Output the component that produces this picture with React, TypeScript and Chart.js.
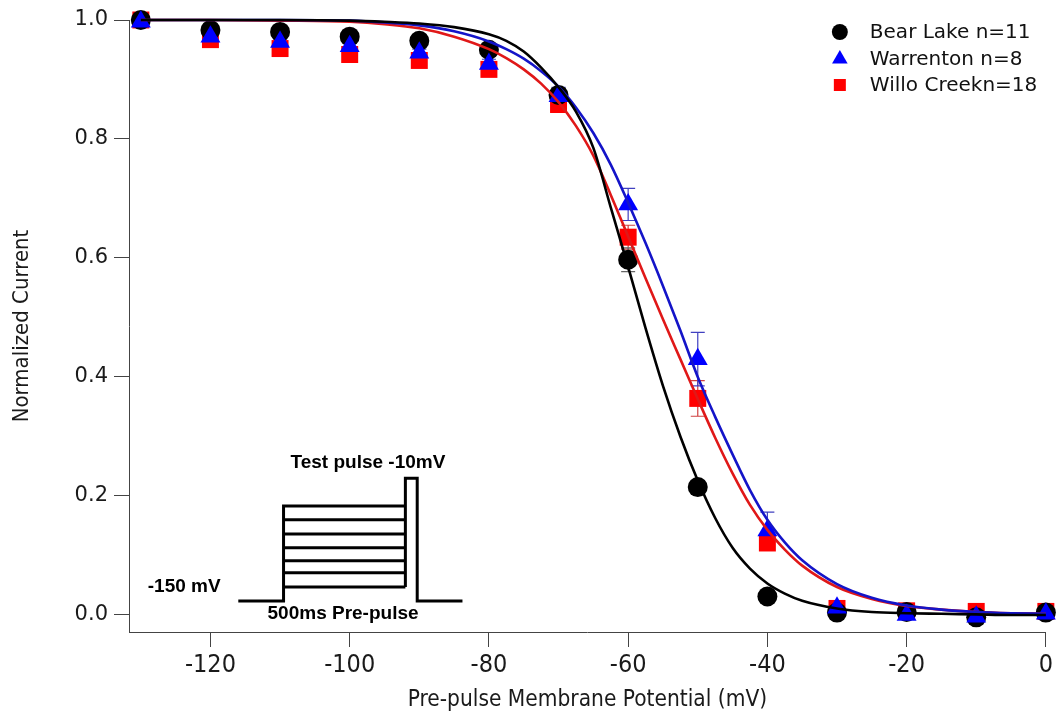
import React, { useEffect, useRef } from 'react';
import { Chart, registerables } from 'chart.js';

Chart.register(...registerables);

// ---- measured data (mV, normalized current) ----
const voltages = [-130, -120, -110, -100, -90, -80, -70, -60, -50, -40, -30, -20, -10, 0];

const bearLake = [1.0, 0.983, 0.98, 0.972, 0.965, 0.95, 0.874, 0.597, 0.215, 0.031, 0.004, 0.005, -0.004, 0.004];
const bearLakeErr = [0, 0.003, 0.003, 0.004, 0.005, 0.006, 0.012, 0.02, 0.01, 0.006, 0.002, 0.002, 0.002, 0.002];

const warrenton = [0.997, 0.972, 0.963, 0.956, 0.945, 0.926, 0.872, 0.69, 0.43, 0.142, 0.012, 0.0, -0.003, 0.002];
const warrentonErr = [0, 0.004, 0.005, 0.005, 0.006, 0.008, 0.015, 0.027, 0.045, 0.031, 0.004, 0.002, 0.002, 0.002];

const willoCreek = [1.0, 0.967, 0.952, 0.942, 0.932, 0.917, 0.858, 0.635, 0.364, 0.121, 0.011, 0.007, 0.006, 0.006];
const willoCreekErr = [0, 0.004, 0.004, 0.005, 0.005, 0.007, 0.012, 0.02, 0.03, 0.012, 0.003, 0.002, 0.002, 0.002];

// ---- fitted curves ----
const fitVoltages = [-130, -120, -110, -100, -95, -90, -85, -80, -77.5, -75, -72.5, -70, -67.5, -65, -62.5, -60, -57.5, -55, -52.5, -50, -47.5, -45, -42.5, -40, -37.5, -35, -30, -25, -20, -15, -10, -5, 0];
const bearLakeFit = [1.0, 1.0, 1.0, 0.999, 0.997, 0.994, 0.988, 0.976, 0.965, 0.947, 0.92, 0.887, 0.846, 0.785, 0.685, 0.585, 0.482, 0.385, 0.3, 0.226, 0.163, 0.113, 0.078, 0.053, 0.036, 0.024, 0.011, 0.005, 0.003, 0.002, 0.001, 0.0, 0.0];
const warrentonFit = [1.0, 1.0, 1.0, 0.999, 0.996, 0.991, 0.981, 0.964, 0.951, 0.935, 0.914, 0.888, 0.853, 0.81, 0.757, 0.693, 0.625, 0.553, 0.478, 0.4, 0.333, 0.27, 0.21, 0.16, 0.122, 0.092, 0.052, 0.029, 0.016, 0.009, 0.005, 0.003, 0.002];
const willoCreekFit = [1.0, 1.0, 0.999, 0.997, 0.993, 0.986, 0.972, 0.951, 0.936, 0.917, 0.893, 0.862, 0.822, 0.772, 0.706, 0.636, 0.566, 0.497, 0.43, 0.363, 0.298, 0.238, 0.185, 0.143, 0.11, 0.083, 0.047, 0.027, 0.015, 0.009, 0.005, 0.003, 0.002];

const xTicks = [-120, -100, -80, -60, -40, -20, 0];
const yTicks = [0.0, 0.2, 0.4, 0.6, 0.8, 1.0];

const seriesLabels = ['Bear Lake n=11', 'Warrenton n=8', 'Willo Creekn=18'];

const BLACK = '#000000';
const BLUE = '#0000ff';
const BLUE_LINE = '#1414c8';
const RED = '#ff0000';
const RED_LINE = '#e01818';

const toXY = (xs: number[], ys: number[]) => xs.map((x, i) => ({ x, y: ys[i] }));

const errorSeries = [
  { values: willoCreek, err: willoCreekErr, color: '#d04040' },
  { values: bearLake, err: bearLakeErr, color: '#666666' },
  { values: warrenton, err: warrentonErr, color: '#4040c0' },
];

const errorBarPlugin = {
  id: 'errorBars',
  beforeDatasetsDraw(chart: any) {
    const { ctx, scales } = chart;
    const x = scales.x, y = scales.y;
    ctx.save();
    ctx.lineWidth = 1.2;
    errorSeries.forEach((s) => {
      ctx.strokeStyle = s.color;
      voltages.forEach((v, i) => {
        const e = s.err[i];
        if (!e) return;
        const px = x.getPixelForValue(v);
        const top = y.getPixelForValue(s.values[i] + e);
        const bot = y.getPixelForValue(s.values[i] - e);
        ctx.beginPath();
        ctx.moveTo(px, top); ctx.lineTo(px, bot);
        ctx.moveTo(px - 7, top); ctx.lineTo(px + 7, top);
        ctx.moveTo(px - 7, bot); ctx.lineTo(px + 7, bot);
        ctx.stroke();
      });
    });
    ctx.restore();
  },
};

function drawMarker(ctx: CanvasRenderingContext2D, style: string, cx: number, cy: number, r: number, color: string) {
  ctx.fillStyle = color;
  ctx.beginPath();
  if (style === 'circle') {
    ctx.arc(cx, cy, r, 0, Math.PI * 2);
  } else if (style === 'triangle') {
    ctx.moveTo(cx, cy - r);
    ctx.lineTo(cx + r * 0.866, cy + r * 0.5);
    ctx.lineTo(cx - r * 0.866, cy + r * 0.5);
    ctx.closePath();
  } else {
    ctx.rect(cx - r * 0.75, cy - r * 0.75, r * 1.5, r * 1.5);
  }
  ctx.fill();
}

const legendPlugin = {
  id: 'customLegend',
  afterDraw(chart: any) {
    const { ctx, chartArea } = chart;
    const styles = ['circle', 'triangle', 'rect'];
    const colors = [BLACK, BLUE, RED];
    const mx = chartArea.right - 206;
    const tx = chartArea.right - 176;
    const rows = [chartArea.top + 12, chartArea.top + 39, chartArea.top + 65];
    ctx.save();
    ctx.font = '20px "DejaVu Sans", Verdana, sans-serif';
    ctx.textBaseline = 'middle';
    ctx.textAlign = 'left';
    seriesLabels.forEach((label, i) => {
      drawMarker(ctx, styles[i], mx, rows[i], styles[i] === 'triangle' ? 9 : 8, colors[i]);
      ctx.fillStyle = '#111';
      ctx.fillText(label, tx, rows[i] + 1);
    });
    ctx.restore();
  },
};

// inset protocol diagram (in data units of the axes)
const insetLevels = [0.183, 0.16, 0.136, 0.113, 0.091, 0.071, 0.047];
const insetGeom = {
  baseY: 0.0235, xStart: -116, xStepUp: -109.5, xStepEnd: -92, xTestEnd: -90.3, xEnd: -83.8, testTop: 0.23,
};

const insetPlugin = {
  id: 'inset',
  afterDraw(chart: any) {
    const { ctx, scales } = chart;
    const X = (v: number) => scales.x.getPixelForValue(v);
    const Y = (v: number) => scales.y.getPixelForValue(v);
    const g = insetGeom;
    ctx.save();
    ctx.strokeStyle = '#000';
    ctx.lineWidth = 3;
    ctx.lineJoin = 'miter';
    ctx.beginPath();
    ctx.moveTo(X(g.xStart), Y(g.baseY));
    ctx.lineTo(X(g.xStepUp), Y(g.baseY));
    ctx.lineTo(X(g.xStepUp), Y(insetLevels[0]));
    ctx.lineTo(X(g.xStepEnd), Y(insetLevels[0]));
    ctx.stroke();
    insetLevels.slice(1).forEach((lv) => {
      ctx.beginPath();
      ctx.moveTo(X(g.xStepUp), Y(lv));
      ctx.lineTo(X(g.xStepEnd), Y(lv));
      ctx.stroke();
    });
    ctx.beginPath();
    ctx.moveTo(X(g.xStepEnd), Y(insetLevels[insetLevels.length - 1]));
    ctx.lineTo(X(g.xStepEnd), Y(g.testTop));
    ctx.lineTo(X(g.xTestEnd), Y(g.testTop));
    ctx.lineTo(X(g.xTestEnd), Y(g.baseY));
    ctx.lineTo(X(g.xEnd), Y(g.baseY));
    ctx.stroke();

    ctx.fillStyle = '#000';
    ctx.font = 'bold 19px "Liberation Sans", Arial, sans-serif';
    ctx.textBaseline = 'middle';
    ctx.textAlign = 'left';
    ctx.fillText('Test pulse -10mV', X(-108.5), Y(0.255));
    ctx.fillText('-150 mV', X(-129), Y(0.047));
    ctx.fillText('500ms Pre-pulse', X(-111.8), Y(0.0017));
    ctx.restore();
  },
};

const narrowFont = '"DejaVu Sans Condensed", "Liberation Sans Narrow", sans-serif';

export default function App() {
  const canvasRef = useRef<HTMLCanvasElement | null>(null);

  useEffect(() => {
    if (!canvasRef.current) return;
    const lineDs = (label: string, ys: number[], color: string, order: number) => ({
      label,
      data: toXY(fitVoltages, ys),
      showLine: true,
      borderColor: color,
      backgroundColor: color,
      borderWidth: 2.6,
      pointRadius: 0,
      cubicInterpolationMode: 'monotone',
      order,
      clip: false,
    });
    const markerDs = (label: string, ys: number[], color: string, style: string, r: number, order: number) => ({
      label,
      data: toXY(voltages, ys),
      showLine: false,
      pointStyle: style,
      pointRadius: r,
      pointHoverRadius: r,
      backgroundColor: color,
      borderColor: color,
      borderWidth: 0,
      order,
      clip: false,
    });

    const chart = new Chart(canvasRef.current, {
      type: 'scatter',
      data: {
        datasets: [
          markerDs(seriesLabels[2], willoCreek, RED, 'rect', 12, 6),
          markerDs(seriesLabels[0], bearLake, BLACK, 'circle', 10, 5),
          markerDs(seriesLabels[1], warrenton, BLUE, 'triangle', 11.5, 4),
          lineDs('Willo Creek fit', willoCreekFit, RED_LINE, 3),
          lineDs('Warrenton fit', warrentonFit, BLUE_LINE, 2),
          lineDs('Bear Lake fit', bearLakeFit, BLACK, 1),
        ] as any,
      },
      options: {
        responsive: false,
        animation: false,
        devicePixelRatio: 1,
        layout: { padding: { top: 20, right: 13, left: 0, bottom: 0 } },
        plugins: {
          legend: { display: false },
          tooltip: { enabled: false },
        },
        scales: {
          x: {
            type: 'linear',
            min: -131.7,
            max: 0,
            afterBuildTicks: (scale: any) => {
              scale.ticks = xTicks.map((v) => ({ value: v }));
            },
            afterFit: (scale: any) => {
              scale.height = 83;
            },
            grid: { drawOnChartArea: false, drawTicks: true, tickLength: 15, tickColor: '#444', tickWidth: 1 },
            border: { display: true, color: '#444', width: 1 },
            ticks: {
              color: '#1a1a1a',
              font: { family: narrowFont, size: 25, lineHeight: 1 },
              padding: 6,
              maxRotation: 0,
              autoSkip: false,
              callback: (v: any) => String(v),
            },
            title: {
              display: true,
              text: 'Pre-pulse Membrane Potential (mV)',
              color: '#1a1a1a',
              font: { family: narrowFont, size: 22.5, lineHeight: 1 },
              padding: { top: 0, bottom: 4 },
            },
          },
          y: {
            type: 'linear',
            min: -0.0286,
            max: 1.0,
            afterBuildTicks: (scale: any) => {
              scale.ticks = yTicks.map((v) => ({ value: v }));
            },
            afterFit: (scale: any) => {
              scale.width = 129;
            },
            grid: { drawOnChartArea: false, drawTicks: true, tickLength: 15, tickColor: '#444', tickWidth: 1 },
            border: { display: true, color: '#444', width: 1 },
            ticks: {
              color: '#1a1a1a',
              font: { family: '"DejaVu Sans", Verdana, sans-serif', size: 21 },
              padding: 6,
              autoSkip: false,
              callback: (v: any) => Number(v).toFixed(1),
            },
            title: {
              display: true,
              text: 'Normalized Current',
              color: '#1a1a1a',
              font: { family: narrowFont, size: 22, lineHeight: 1 },
              padding: { top: 11, bottom: 0 },
            },
          },
        },
      } as any,
      plugins: [errorBarPlugin, legendPlugin, insetPlugin],
    });
    return () => chart.destroy();
  }, []);

  return (
    <div style={{ position: 'absolute', left: 0, top: 0, width: 1059, height: 715, background: '#fff' }}>
      <canvas ref={canvasRef} width={1059} height={715} style={{ width: 1059, height: 715 }} />
    </div>
  );
}
